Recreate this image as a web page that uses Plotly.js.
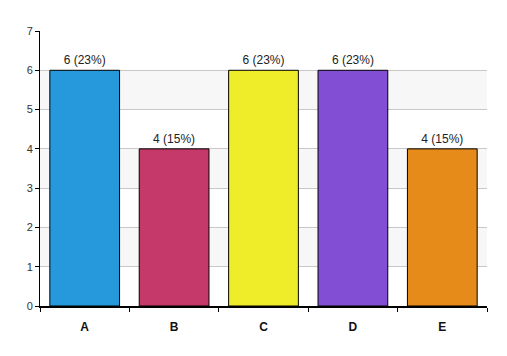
<!DOCTYPE html>
<html><head><meta charset="utf-8">
<script src="https://cdn.plot.ly/plotly-3.0.1.min.js"></script>
<style>html,body{margin:0;padding:0;background:#fff}#c{width:507px;height:356px}</style>
</head><body><div id="c"></div>
<script>
const categories = ["A","B","C","D","E"];
const values = [6,4,6,6,4];
const percents = ["23%","15%","23%","23%","15%"];
const colors = ["#2599DC","#C4396A","#EFEC2A","#824FD4","#E68A1A"];
const yTicks = [0,1,2,3,4,5,6,7];
const bands = [[1,2],[3,4],[5,6]];

const labels = values.map((v,i)=>v+" ("+percents[i]+")");
const trace = {
  type:"bar", x:categories, y:values, width:0.78,
  marker:{color:colors, line:{color:"#000", width:1}},
  text:labels, textposition:"outside", cliponaxis:false,
  textfont:{family:"Liberation Sans, Arial, sans-serif", size:12, color:"#222"},
  hoverinfo:"none"
};
const shapes = bands.map(b=>({type:"rect", xref:"paper", yref:"y", x0:0, x1:1, y0:b[0], y1:b[1],
  fillcolor:"#f7f7f7", line:{width:0}, layer:"below"}));
const layout = {
  width:507, height:356,
  margin:{l:40, r:20, t:31, b:50},
  paper_bgcolor:"#fff", plot_bgcolor:"#fff",
  showlegend:false, bargap:0.22,
  shapes:shapes,
  xaxis:{type:"category", tickson:"boundaries", ticks:"outside", ticklen:4, tickcolor:"#000",
    showline:true, linecolor:"#000", linewidth:2, showgrid:false, ticklabelstandoff:9,
    tickfont:{family:"Liberation Sans, Arial, sans-serif", size:12, color:"#111", weight:"bold"},
    range:[-0.5,4.5], fixedrange:true},
  yaxis:{range:[0,7], tickvals:yTicks, ticks:"outside", ticklen:4, tickcolor:"#000",
    showline:true, linecolor:"#000", linewidth:1, showgrid:true, gridcolor:"#c8c8c8", gridwidth:1,
    zeroline:false,
    tickfont:{family:"Liberation Sans, Arial, sans-serif", size:11, color:"#333"}, fixedrange:true}
};
Plotly.newPlot("c",[trace],layout,{staticPlot:true});
</script></body></html>
